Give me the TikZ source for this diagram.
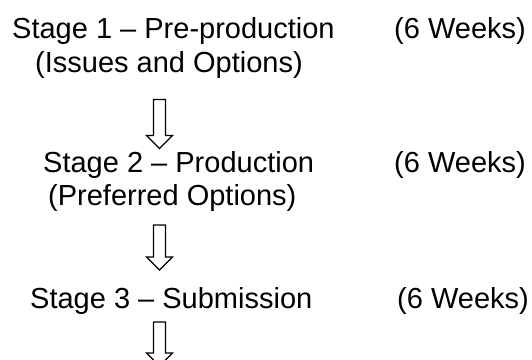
\documentclass[tikz,border=0pt]{standalone}
\usepackage{fontspec}
\setmainfont{Liberation Sans}
\begin{document}
\begin{tikzpicture}[x=1pt,y=-1pt,
  lbl/.style={inner sep=0pt,anchor=base west,font=\fontsize{29}{29}\selectfont},
  blockarrow/.style={draw=black,line width=1.3pt,fill=white,line join=miter}]
\clip (0,0) rectangle (532,359);
\useasboundingbox (0,0) rectangle (532,359);
\node[lbl] (s1) at (12,38) {Stage 1 – Pre-production};
\node[lbl] (s1b) at (35,72) {(Issues and Options)};
\node[lbl] (w1) at (394,38) {(6 Weeks)};
\node[lbl] (s2) at (43,172) {Stage 2 – Production};
\node[lbl] (s2b) at (48,205) {(Preferred Options)};
\node[lbl] (w2) at (394,172) {(6 Weeks)};
\node[lbl] (s3) at (30,308) {Stage 3 – Submission};
\node[lbl] (w3) at (397,308) {(6 Weeks)};
% block arrows: top-centre coordinates
\coordinate (a1) at (159.5,99.5);
\coordinate (a2) at (159.5,225);
\coordinate (a3) at (159.5,322);
\foreach \c/\h in {a1/36, a2/32, a3/31}{
  \draw[blockarrow] (\c) ++(-6,0) -- ++(0,\h) -- ++(-7,0) -- ++(13,13) -- ++(13,-13) -- ++(-7,0) -- ++(0,-\h) -- cycle;
}
\end{tikzpicture}
\end{document}
